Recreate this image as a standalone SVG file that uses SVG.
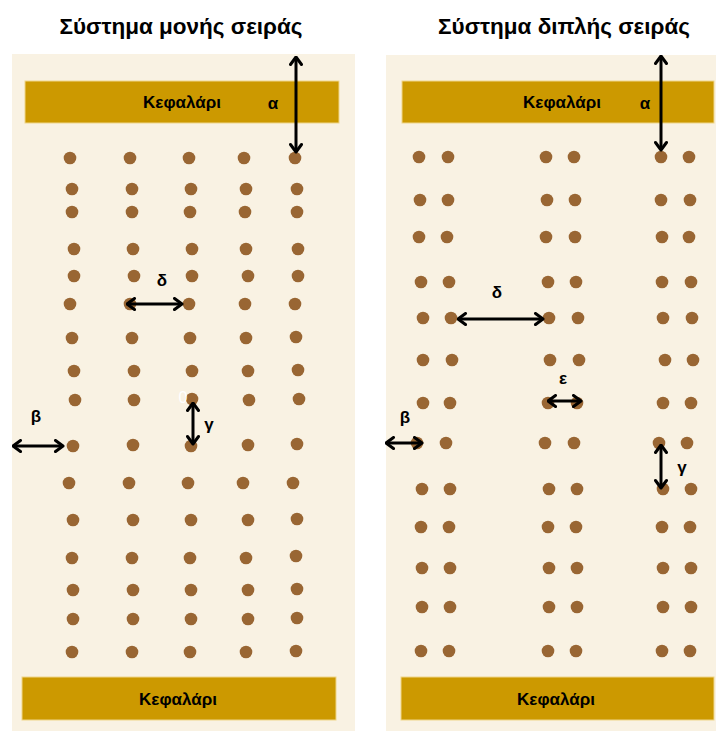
<svg xmlns="http://www.w3.org/2000/svg" width="716" height="731" viewBox="0 0 716 731">
<defs>
<style>
.bg{fill:#F9F2E3}
.hdr{fill:#CC9900;stroke:#EFD58A;stroke-width:1}
.title{font-family:"Liberation Sans",Arial,sans-serif;font-weight:bold;font-size:22.5px;fill:#000}
.lbl{font-family:"Liberation Sans",Arial,sans-serif;font-weight:bold;font-size:17px;fill:#000}
.dots circle{fill:#996633}
.arr{stroke:#000;stroke-width:3;fill:none;marker-start:url(#ah);marker-end:url(#ah)}
</style>
<marker id="ah" viewBox="0 0 14 14" refX="12.5" refY="7" markerWidth="14" markerHeight="14" markerUnits="userSpaceOnUse" orient="auto-start-reverse">
<path d="M5,1.5 L12.5,7 L5,12.5" fill="none" stroke="#000" stroke-width="3" stroke-linecap="round" stroke-linejoin="round"/>
</marker>
</defs>
<rect width="716" height="731" fill="#fff"/>
<text class="title" x="181" y="34" text-anchor="middle">Σύστημα μονής σειράς</text>
<text class="title" x="564" y="34" text-anchor="middle">Σύστημα διπλής σειράς</text>
<rect class="bg" x="12" y="54" width="343" height="677"/>
<rect class="bg" x="386" y="55" width="330" height="676"/>
<g id="left-header-top"><rect class="hdr" x="25" y="81" width="314" height="42"/><text class="lbl" x="182" y="108" text-anchor="middle">Κεφαλάρι</text></g>
<g id="left-header-bottom"><rect class="hdr" x="22" y="677" width="314" height="43"/><text class="lbl" x="178" y="705" text-anchor="middle">Κεφαλάρι</text></g>
<g id="right-header-top"><rect class="hdr" x="402" y="81" width="312" height="42"/><text class="lbl" x="562" y="108" text-anchor="middle">Κεφαλάρι</text></g>
<g id="right-header-bottom"><rect class="hdr" x="401" y="677" width="313" height="43"/><text class="lbl" x="556" y="705" text-anchor="middle">Κεφαλάρι</text></g>
<g id="left-dots" class="dots">
<circle cx="70" cy="158" r="6.3"/><circle cx="130" cy="158" r="6.3"/><circle cx="189" cy="158" r="6.3"/><circle cx="244" cy="158" r="6.3"/><circle cx="295" cy="158" r="6.3"/>
<circle cx="72" cy="189" r="6.3"/><circle cx="132" cy="189" r="6.3"/><circle cx="191" cy="189" r="6.3"/><circle cx="246" cy="189" r="6.3"/><circle cx="297" cy="189" r="6.3"/>
<circle cx="72" cy="212" r="6.3"/><circle cx="132" cy="212" r="6.3"/><circle cx="190" cy="212" r="6.3"/><circle cx="245" cy="212" r="6.3"/><circle cx="297" cy="212" r="6.3"/>
<circle cx="74" cy="249" r="6.3"/><circle cx="133" cy="249" r="6.3"/><circle cx="192" cy="249" r="6.3"/><circle cx="246" cy="249" r="6.3"/><circle cx="298" cy="249" r="6.3"/>
<circle cx="74" cy="276" r="6.3"/><circle cx="134" cy="276" r="6.3"/><circle cx="192" cy="276" r="6.3"/><circle cx="248" cy="276" r="6.3"/><circle cx="298" cy="276" r="6.3"/>
<circle cx="70" cy="304" r="6.3"/><circle cx="130" cy="304" r="6.3"/><circle cx="189" cy="304" r="6.3"/><circle cx="245" cy="304" r="6.3"/><circle cx="295" cy="304" r="6.3"/>
<circle cx="72" cy="338" r="6.3"/><circle cx="132" cy="338" r="6.3"/><circle cx="190" cy="338" r="6.3"/><circle cx="246" cy="338" r="6.3"/><circle cx="296" cy="337" r="6.3"/>
<circle cx="74" cy="371" r="6.3"/><circle cx="134" cy="371" r="6.3"/><circle cx="192" cy="371" r="6.3"/><circle cx="248" cy="371" r="6.3"/><circle cx="298" cy="370" r="6.3"/>
<circle cx="75" cy="400" r="6.3"/><circle cx="134" cy="400" r="6.3"/><circle cx="192" cy="399" r="6.3"/><circle cx="249" cy="400" r="6.3"/><circle cx="299" cy="399" r="6.3"/>
<circle cx="73" cy="446" r="6.3"/><circle cx="133" cy="445" r="6.3"/><circle cx="191" cy="446" r="6.3"/><circle cx="248" cy="445" r="6.3"/><circle cx="297" cy="444" r="6.3"/>
<circle cx="69" cy="483" r="6.3"/><circle cx="129" cy="483" r="6.3"/><circle cx="188" cy="483" r="6.3"/><circle cx="243" cy="483" r="6.3"/><circle cx="293" cy="483" r="6.3"/>
<circle cx="73" cy="520" r="6.3"/><circle cx="133" cy="520" r="6.3"/><circle cx="191" cy="520" r="6.3"/><circle cx="248" cy="520" r="6.3"/><circle cx="297" cy="519" r="6.3"/>
<circle cx="72" cy="558" r="6.3"/><circle cx="132" cy="558" r="6.3"/><circle cx="190" cy="558" r="6.3"/><circle cx="246" cy="558" r="6.3"/><circle cx="296" cy="556" r="6.3"/>
<circle cx="73" cy="590" r="6.3"/><circle cx="133" cy="590" r="6.3"/><circle cx="191" cy="590" r="6.3"/><circle cx="248" cy="590" r="6.3"/><circle cx="297" cy="589" r="6.3"/>
<circle cx="73" cy="619" r="6.3"/><circle cx="133" cy="619" r="6.3"/><circle cx="191" cy="619" r="6.3"/><circle cx="248" cy="619" r="6.3"/><circle cx="297" cy="618" r="6.3"/>
<circle cx="72" cy="652" r="6.3"/><circle cx="132" cy="652" r="6.3"/><circle cx="190" cy="652" r="6.3"/><circle cx="246" cy="652" r="6.3"/><circle cx="296" cy="651" r="6.3"/>
</g>
<g id="right-dots" class="dots">
<circle cx="419" cy="157" r="6.3"/><circle cx="448" cy="157" r="6.3"/><circle cx="546" cy="157" r="6.3"/><circle cx="574" cy="157" r="6.3"/><circle cx="661" cy="157" r="6.3"/><circle cx="689" cy="157" r="6.3"/>
<circle cx="420" cy="200" r="6.3"/><circle cx="448" cy="200" r="6.3"/><circle cx="547" cy="200" r="6.3"/><circle cx="575" cy="200" r="6.3"/><circle cx="661" cy="200" r="6.3"/><circle cx="690" cy="200" r="6.3"/>
<circle cx="419" cy="237" r="6.3"/><circle cx="447" cy="237" r="6.3"/><circle cx="546" cy="237" r="6.3"/><circle cx="575" cy="237" r="6.3"/><circle cx="662" cy="237" r="6.3"/><circle cx="689" cy="237" r="6.3"/>
<circle cx="421" cy="282" r="6.3"/><circle cx="449" cy="282" r="6.3"/><circle cx="548" cy="282" r="6.3"/><circle cx="576" cy="282" r="6.3"/><circle cx="662" cy="282" r="6.3"/><circle cx="691" cy="282" r="6.3"/>
<circle cx="423" cy="318" r="6.3"/><circle cx="451" cy="318" r="6.3"/><circle cx="549" cy="318" r="6.3"/><circle cx="578" cy="318" r="6.3"/><circle cx="663" cy="318" r="6.3"/><circle cx="692" cy="318" r="6.3"/>
<circle cx="423" cy="360" r="6.3"/><circle cx="452" cy="360" r="6.3"/><circle cx="550" cy="360" r="6.3"/><circle cx="579" cy="360" r="6.3"/><circle cx="665" cy="360" r="6.3"/><circle cx="693" cy="360" r="6.3"/>
<circle cx="423" cy="403" r="6.3"/><circle cx="450" cy="403" r="6.3"/><circle cx="548" cy="403" r="6.3"/><circle cx="577" cy="403" r="6.3"/><circle cx="663" cy="403" r="6.3"/><circle cx="691" cy="403" r="6.3"/>
<circle cx="417" cy="443" r="6.3"/><circle cx="446" cy="443" r="6.3"/><circle cx="545" cy="443" r="6.3"/><circle cx="574" cy="443" r="6.3"/><circle cx="659" cy="443" r="6.3"/><circle cx="687" cy="443" r="6.3"/>
<circle cx="422" cy="489" r="6.3"/><circle cx="450" cy="489" r="6.3"/><circle cx="549" cy="489" r="6.3"/><circle cx="577" cy="489" r="6.3"/><circle cx="663" cy="489" r="6.3"/><circle cx="691" cy="489" r="6.3"/>
<circle cx="421" cy="527" r="6.3"/><circle cx="449" cy="527" r="6.3"/><circle cx="548" cy="527" r="6.3"/><circle cx="576" cy="527" r="6.3"/><circle cx="662" cy="527" r="6.3"/><circle cx="690" cy="527" r="6.3"/>
<circle cx="422" cy="568" r="6.3"/><circle cx="450" cy="568" r="6.3"/><circle cx="549" cy="568" r="6.3"/><circle cx="577" cy="568" r="6.3"/><circle cx="663" cy="568" r="6.3"/><circle cx="691" cy="568" r="6.3"/>
<circle cx="422" cy="607" r="6.3"/><circle cx="450" cy="607" r="6.3"/><circle cx="549" cy="607" r="6.3"/><circle cx="577" cy="607" r="6.3"/><circle cx="663" cy="607" r="6.3"/><circle cx="691" cy="607" r="6.3"/>
<circle cx="421" cy="651" r="6.3"/><circle cx="449" cy="651" r="6.3"/><circle cx="548" cy="651" r="6.3"/><circle cx="576" cy="651" r="6.3"/><circle cx="662" cy="651" r="6.3"/><circle cx="690" cy="651" r="6.3"/>
</g>
<g id="connectors">
<line class="arr" x1="296" y1="57" x2="296" y2="152"/>
<line class="arr" x1="127" y1="304" x2="182" y2="304"/>
<line class="arr" x1="193" y1="403" x2="193" y2="444"/>
<line class="arr" x1="13" y1="446" x2="63" y2="446"/>
<line class="arr" x1="661" y1="56" x2="661" y2="150"/>
<line class="arr" x1="458" y1="319" x2="543" y2="319"/>
<line class="arr" x1="548" y1="401" x2="581" y2="401"/>
<line class="arr" x1="386" y1="443" x2="422" y2="443"/>
<line class="arr" x1="661" y1="445" x2="661" y2="488"/>
</g>
<g id="labels">
<text class="lbl" x="273" y="109" text-anchor="middle">α</text>
<text class="lbl" x="645" y="109" text-anchor="middle">α</text>
<text class="lbl" x="162" y="286" text-anchor="middle">δ</text>
<text class="lbl" x="209" y="430" text-anchor="middle">γ</text>
<text class="lbl" x="36" y="422" text-anchor="middle">β</text>
<text x="183" y="403" text-anchor="middle" font-family="Liberation Sans, Arial, sans-serif" font-size="16" fill="#fff">0</text>
<text class="lbl" x="497" y="298" text-anchor="middle">δ</text>
<text class="lbl" x="563" y="384" text-anchor="middle">ε</text>
<text class="lbl" x="405" y="423" text-anchor="middle">β</text>
<text class="lbl" x="682" y="473" text-anchor="middle">γ</text>
</g>
</svg>
